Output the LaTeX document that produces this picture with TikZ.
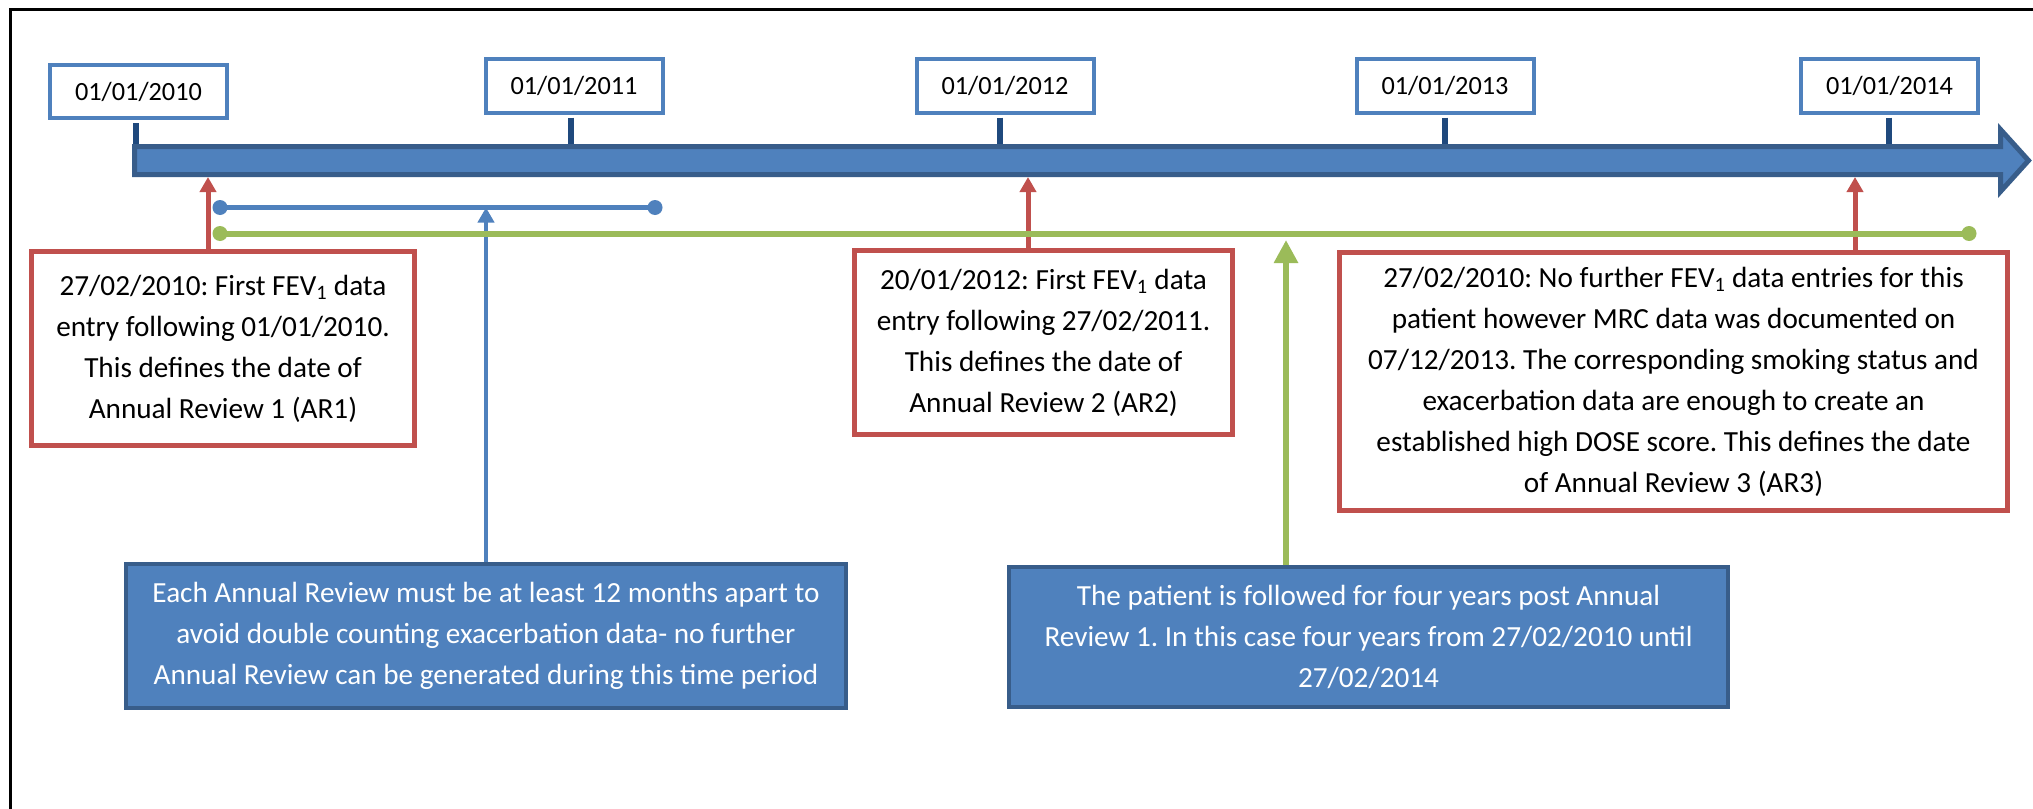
\documentclass[tikz,border=0pt]{standalone}
\usepackage{fontspec}
\setmainfont{Carlito}
\usetikzlibrary{arrows.meta}
\definecolor{ablue}{HTML}{4F81BD}
\definecolor{dblue}{HTML}{385D8A}
\definecolor{tblue}{HTML}{1F497D}
\definecolor{ared}{HTML}{C0504D}
\definecolor{agreen}{HTML}{9BBB59}
\tikzset{
  datebox/.style={draw=ablue, line width=4pt, fill=white, minimum width=177pt, minimum height=53pt, inner sep=0pt, font=\fontsize{26.3}{30}\selectfont},
  redbox/.style={draw=ared, line width=5pt, fill=white, inner sep=0pt, align=center, font=\fontsize{29.2}{41}\selectfont},
  bluebox/.style={draw=dblue, line width=4pt, fill=ablue, text=white, inner sep=0pt, align=center, font=\fontsize{29.2}{41}\selectfont},
  tickline/.style={draw=tblue, line width=6pt, shorten <=3pt},
  redarrow/.style={draw=ared, line width=5pt, -{Triangle[width=16pt,length=15pt]}},
  bluearrow/.style={draw=ablue, line width=4pt, -{Triangle[width=16pt,length=15pt]}},
  greenarrow/.style={draw=agreen, line width=6pt, -{Triangle[width=23pt,length=23pt]}},
  bluebracket/.style={draw=ablue, line width=5pt},
  greenbracket/.style={draw=agreen, line width=6pt},
  framelines/.style={draw=black, line width=3pt},
  timebar/.style={draw=dblue, fill=ablue, line width=5pt, line join=miter}
}
\newcommand{\dlow}[1]{\raisebox{-3pt}{#1}}
\begin{document}
\frenchspacing
\begin{tikzpicture}[x=1pt,y=-1pt]
\useasboundingbox (0,0) rectangle (2033,808);
\fill[white] (0,0) rectangle (2033,808);
% frame
\draw[framelines] (10,820) -- (10,10) -- (2045,10);

% date boxes
\node[datebox] (d0) at (138.5,91.5) {\dlow{01/01/2010}};
\node[datebox] (d1) at (574,86) {\dlow{01/01/2011}};
\node[datebox] (d2) at (1005,86) {\dlow{01/01/2012}};
\node[datebox] (d3) at (1445,86) {\dlow{01/01/2013}};
\node[datebox] (d4) at (1889.5,86) {\dlow{01/01/2014}};

% tick positions on bar top
\coordinate (k0) at (136,146);
\coordinate (k1) at (571,146);
\coordinate (k2) at (1000,146);
\coordinate (k3) at (1445,146);
\coordinate (k4) at (1889,146);
\draw[tickline] (d0.south -| k0) -- (k0);
\draw[tickline] (d1.south -| k1) -- (k1);
\draw[tickline] (d2.south -| k2) -- (k2);
\draw[tickline] (d3.south -| k3) -- (k3);
\draw[tickline] (d4.south -| k4) -- (k4);

% timeline bar
\draw[timebar] (134.5,146.5) -- (2000.5,146.5) -- (2000.5,129.5) -- (2028.5,160.5)
  -- (2000.5,191.5) -- (2000.5,174.5) -- (134.5,174.5) -- cycle;

% red boxes
\node[redbox, minimum width=383pt, minimum height=194pt] (ar1) at (223,348.5)
  {27/02/2010: First FEV\textsubscript{1} data\\entry following 01/01/2010.\\This defines the date of\\Annual Review 1 (AR1)};
\node[redbox, minimum width=378pt, minimum height=184pt] (ar2) at (1043.5,342.5)
  {20/01/2012: First FEV\textsubscript{1} data\\entry following 27/02/2011.\\This defines the date of\\Annual Review 2 (AR2)};
\node[redbox, minimum width=668pt, minimum height=258pt] (ar3) at (1673.5,381.5)
  {27/02/2010: No further FEV\textsubscript{1} data entries for this\\patient however MRC data was documented on\\07/12/2013. The corresponding smoking status and\\exacerbation data are enough to create an\\established high DOSE score. This defines the date\\of Annual Review 3 (AR3)};

% blue boxes
\node[bluebox, minimum width=720pt, minimum height=144pt] (bx1) at (486,636)
  {Each Annual Review must be at least 12 months apart to\\avoid double counting exacerbation data- no further\\Annual Review can be generated during this time period};
\node[bluebox, minimum width=719pt, minimum height=140pt] (bx2) at (1368.5,637)
  {The patient is followed for four years post Annual\\Review 1. In this case four years from 27/02/2010 until\\27/02/2014};

% red arrows to the bar
\coordinate (r1) at (208,177);
\coordinate (r2) at (1028,177);
\coordinate (r3) at (1855,177);
\draw[redarrow] (ar1.north -| r1) -- (r1);
\draw[redarrow] (ar2.north -| r2) -- (r2);
\draw[redarrow] (ar3.north -| r3) -- (r3);

% blue bracket (12 months)
\coordinate (b1) at (220,207.5);
\coordinate (b2) at (655,207.5);
\draw[bluebracket] (b1) -- (b2);
\fill[ablue] (b1) circle (7.5pt);
\fill[ablue] (b2) circle (7.5pt);
\draw[bluearrow] (bx1.north) -- (bx1.north |- b1);

% green bracket (four years)
\coordinate (g1) at (220,233.5);
\coordinate (g2) at (1969,233.5);
\draw[greenbracket] (g1) -- (g2);
\fill[agreen] (g1) circle (7.5pt);
\fill[agreen] (g2) circle (7.5pt);
\coordinate (ga) at (1286,240);
\draw[greenarrow] (bx2.north -| ga) -- (ga);
\end{tikzpicture}
\end{document}
